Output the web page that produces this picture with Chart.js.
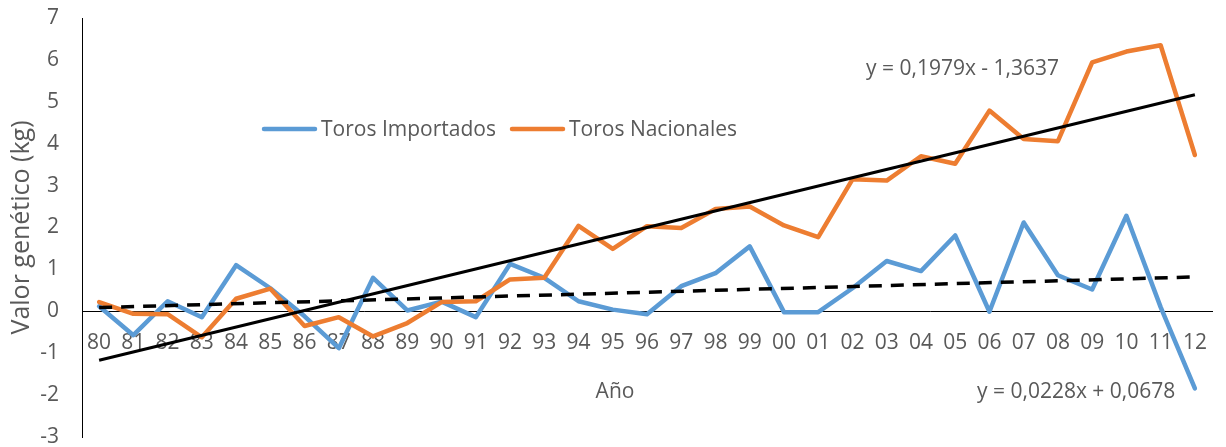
<!DOCTYPE html>
<html>
<head>
<meta charset="utf-8">
<script src="https://cdn.jsdelivr.net/npm/chart.js@4.4.1/dist/chart.umd.min.js"></script>
<style>
html,body{margin:0;padding:0;background:#ffffff;}
#wrap{width:1226px;height:447px;position:relative;}
</style>
</head>
<body>
<div id="wrap"><canvas id="c" width="1226" height="447"></canvas></div>
<script>
// ---- data ----
const years = ['80','81','82','83','84','85','86','87','88','89','90','91','92','93','94','95','96','97','98','99','00','01','02','03','04','05','06','07','08','09','10','11','12'];
const importados = [0.12, -0.57, 0.24, -0.14, 1.10, 0.55, -0.12, -0.88, 0.80, 0.02, 0.23, -0.14, 1.13, 0.80, 0.24, 0.04, -0.07, 0.60, 0.91, 1.55, -0.02, -0.02, 0.55, 1.20, 0.96, 1.81, -0.01, 2.12, 0.86, 0.52, 2.28, 0.10, -1.84];
const nacionales = [0.22, -0.06, -0.07, -0.62, 0.30, 0.54, -0.35, -0.14, -0.60, -0.28, 0.22, 0.24, 0.76, 0.80, 2.04, 1.49, 2.03, 1.99, 2.44, 2.50, 2.05, 1.77, 3.15, 3.12, 3.70, 3.52, 4.79, 4.11, 4.06, 5.94, 6.20, 6.35, 3.73];
// trend line end points (first and last year)
const trendNacionalesEnds = [-1.17, 5.17];
const trendImportadosEnds = [0.09, 0.82];
const trendNacionalesLabel = 'y = 0,1979x - 1,3637';
const trendImportadosLabel = 'y = 0,0228x + 0,0678';
const seriesNames = ['Toros Importados', 'Toros Nacionales'];
const xTitle = 'Año';
const yTitle = 'Valor genético (kg)';
const yMin = -3, yMax = 7, yStep = 1;

function endsToSeries(ends) {
  const arr = years.map(() => null);
  arr[0] = ends[0];
  arr[arr.length - 1] = ends[1];
  return arr;
}

const FONT = '"Open Sans", "Noto Sans", sans-serif';
const TXT = '#595959';
const BLUE = '#5B9BD5';
const ORANGE = '#ED7D31';

const overlayPlugin = {
  id: 'overlay',
  afterDraw(chart) {
    const ctx = chart.ctx;
    ctx.save();
    ctx.font = '21px ' + FONT;
    ctx.fillStyle = TXT;
    ctx.textBaseline = 'alphabetic';
    ctx.textAlign = 'left';
    // legend
    const items = [
      {x: 262, color: BLUE, text: seriesNames[0]},
      {x: 510, color: ORANGE, text: seriesNames[1]}
    ];
    items.forEach(it => {
      ctx.strokeStyle = it.color;
      ctx.lineWidth = 4.5;
      ctx.lineCap = 'round';
      ctx.beginPath();
      ctx.moveTo(it.x + 2, 129);
      ctx.lineTo(it.x + 53, 129);
      ctx.stroke();
      ctx.fillText(it.text, it.x + 59, 136);
    });
    // trend equations
    ctx.fillText(trendNacionalesLabel, 866, 75);
    ctx.fillText(trendImportadosLabel, 977, 398);
    // x axis title
    ctx.textAlign = 'center';
    ctx.fillText(xTitle, 615, 398);
    ctx.restore();
  }
};

new Chart(document.getElementById('c'), {
  type: 'line',
  data: {
    labels: years,
    datasets: [
      {
        label: 'Lineal (Toros Nacionales)',
        data: endsToSeries(trendNacionalesEnds),
        borderColor: '#000000',
        borderWidth: 3,
        pointRadius: 0,
        spanGaps: true,
        fill: false
      },
      {
        label: 'Lineal (Toros Importados)',
        data: endsToSeries(trendImportadosEnds),
        borderColor: '#000000',
        borderWidth: 3.5,
        borderDash: [13, 9],
        pointRadius: 0,
        spanGaps: true,
        fill: false
      },
      {
        label: seriesNames[1],
        data: nacionales,
        borderColor: ORANGE,
        borderWidth: 4.5,
        borderJoinStyle: 'round',
        borderCapStyle: 'round',
        pointRadius: 0,
        tension: 0,
        fill: false
      },
      {
        label: seriesNames[0],
        data: importados,
        borderColor: BLUE,
        borderWidth: 4.5,
        borderJoinStyle: 'round',
        borderCapStyle: 'round',
        pointRadius: 0,
        tension: 0,
        fill: false
      }
    ]
  },
  options: {
    responsive: false,
    animation: false,
    devicePixelRatio: 1,
    layout: { padding: { left: 0, right: 7, top: 18, bottom: 10 } },
    plugins: {
      legend: { display: false },
      tooltip: { enabled: false }
    },
    scales: {
      x: {
        type: 'category',
        position: { y: 0 },
        offset: true,
        grid: { display: false, drawTicks: false },
        border: { display: true, color: '#000000', width: 1 },
        ticks: {
          autoSkip: false,
          maxRotation: 0,
          minRotation: 0,
          padding: 19,
          color: TXT,
          font: { family: FONT, size: 21 }
        },
        title: { display: false }
      },
      y: {
        min: yMin,
        max: yMax,
        grid: { display: false, drawTicks: true, tickLength: 23 },
        border: { display: true, color: '#000000', width: 1 },
        ticks: {
          stepSize: yStep,
          padding: 0,
          color: TXT,
          font: { family: FONT, size: 21, lineHeight: 0.9 }
        },
        title: {
          display: true,
          text: yTitle,
          color: TXT,
          font: { family: FONT, size: 25 },
          padding: { top: 7, bottom: 0 }
        },
        afterFit(scale) { scale.width = 82; }
      }
    }
  },
  plugins: [overlayPlugin]
});
</script>
</body>
</html>
